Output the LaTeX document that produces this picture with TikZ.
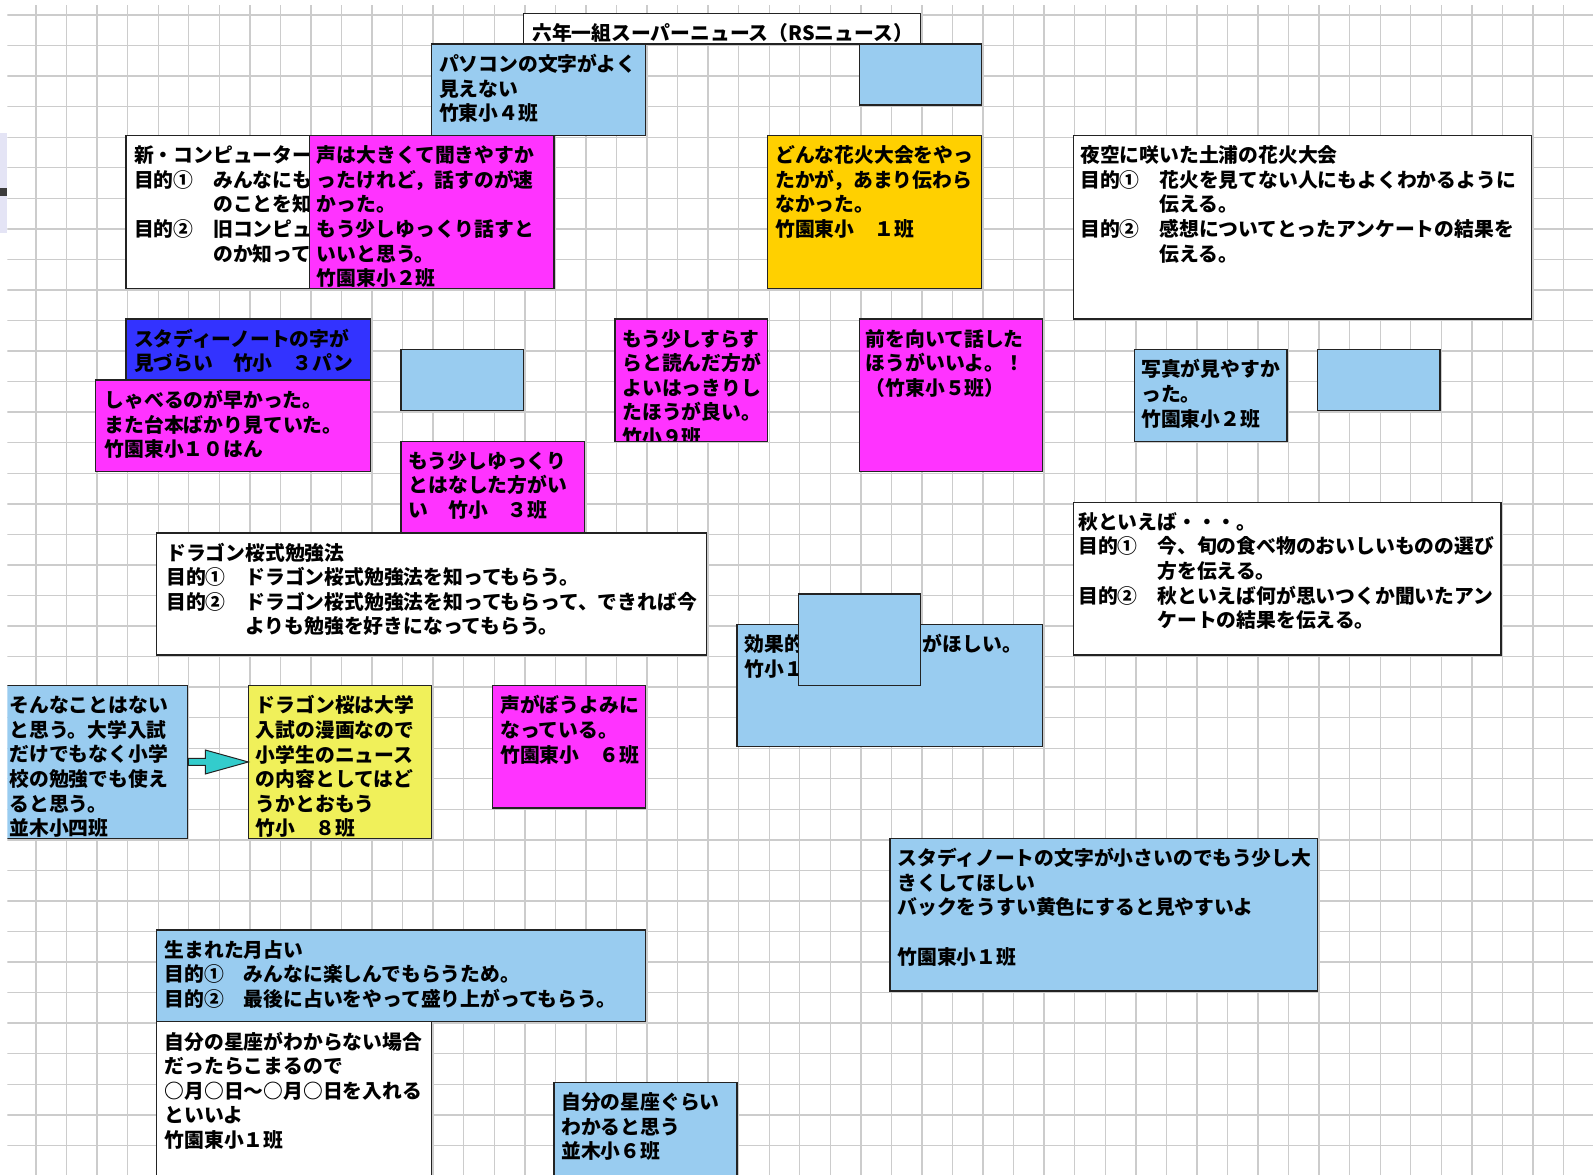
\documentclass[tikz,border=0pt]{standalone}
\usepackage{fontspec}
\newfontfamily\jp{Noto Sans CJK JP}
\usetikzlibrary{calc}
\definecolor{lblue}{RGB}{153,204,240}
\definecolor{mag}{RGB}{255,51,255}
\definecolor{gold}{RGB}{255,208,0}
\definecolor{dblue}{RGB}{51,51,255}
\definecolor{lyellow}{RGB}{240,240,90}
\definecolor{arrowcyan}{RGB}{51,204,204}
\definecolor{bordercol}{RGB}{35,35,35}
\definecolor{gridcol}{RGB}{204,204,204}
\definecolor{lav}{RGB}{228,228,245}
\definecolor{markcol}{RGB}{60,60,60}
\tikzset{
  box/.style={rectangle, draw=bordercol, line width=1.4pt, inner sep=0pt, outer sep=0pt, anchor=north west},
  txt/.style={anchor=north west, inner sep=0pt, outer sep=0pt, align=left, text=black,
    font=\jp\bfseries\fontsize{19.8pt}{24.6pt}\selectfont},
  gridline/.style={draw=gridcol, line width=1.4pt},
  arrowshape/.style={fill=arrowcyan, draw=bordercol, line width=1pt, line join=miter},
}
% box: name, k1, j1, k2, j2, fill
\newcommand{\bx}[6]{\node[box, fill=#6,
  minimum width={30.55*((#4)-(#2))*1pt}, minimum height={30.55*((#5)-(#3))*1pt}]
  (#1) at ({34.5+30.55*(#2)},{13.5+30.55*(#3)}) {};}
% text: box name, dx, text
\newcommand{\tx}[3]{\node[txt] (#1t) at ($(#1.north west)+(#2,10)$) {\rule{0pt}{17pt}#3};}
\begin{document}
\begin{tikzpicture}[x=1pt,y=-1pt]
\useasboundingbox (0,0) rectangle (1593,1175);
\fill[white] (0,0) rectangle (1593,1175);
\fill[lav] (0,133) rectangle (7.3,233);
\fill[markcol] (0,188) rectangle (7.3,196);
\begin{scope}
\clip (7.3,5) rectangle (1593,1175);
\foreach \k in {0,...,51} \draw[gridline] ({36+30.55*\k},5) -- ({36+30.55*\k},1175);
\foreach \j in {0,...,38} \draw[gridline] (7.3,{15+30.55*\j}) -- (1593,{15+30.55*\j});

% title and top row
\bx{title}{16}{0}{29}{1}{white}
\tx{title}{9}{六年一組スーパーニュース（RSニュース）}
\bx{b2}{13}{1}{20}{4}{lblue}
\tx{b2}{7.5}{パソコンの文字がよく\\見えない\\竹東小４班}
\bx{b3}{27}{1}{31}{3}{lblue}

% second row
\bx{b4}{3}{4}{17}{9}{white}
\tx{b4}{8}{新・コンピューター\\目的①　みんなにも\\　　　　のことを知\\目的②　旧コンピュ\\　　　　のか知って}
\bx{b5}{9}{4}{17}{9}{mag}
\tx{b5}{7.5}{声は大きくて聞きやすか\\ったけれど，話すのが速\\かった。\\もう少しゆっくり話すと\\いいと思う。\\竹園東小２班}
\bx{b6}{24}{4}{31}{9}{gold}
\tx{b6}{7.5}{どんな花火大会をやっ\\たかが，あまり伝わら\\なかった。\\竹園東小　１班}
\bx{b7}{34}{4}{49}{10}{white}
\tx{b7}{7}{夜空に咲いた土浦の花火大会\\目的①　花火を見てない人にもよくわかるように\\　　　　伝える。\\目的②　感想についてとったアンケートの結果を\\　　　　伝える。}

% third row
\bx{b8}{3}{10}{11}{12}{dblue}
\tx{b8}{8}{スタディーノートの字が\\見づらい　竹小　３パン}
\bx{b9}{2}{12}{11}{15}{mag}
\tx{b9}{9}{しゃべるのが早かった。\\また台本ばかり見ていた。\\竹園東小１０はん}
\bx{b10}{12}{11}{16}{13}{lblue}
\bx{b11}{19}{10}{24}{14}{mag}
\begin{scope}
\clip ($(b11.north west)+(0.8,0.8)$) rectangle ($(b11.south east)+(-0.8,-0.8)$);
\tx{b11}{7.5}{もう少しすらす\\らと読んだ方が\\よいはっきりし\\たほうが良い。\\竹小９班}
\end{scope}
\bx{b12}{27}{10}{33}{15}{mag}
\tx{b12}{6.5}{前を向いて話した\\ほうがいいよ。！\\（竹東小５班）}
\bx{b13}{36}{11}{41}{14}{lblue}
\tx{b13}{7}{写真が見やすか\\った。\\竹園東小２班}
\bx{b14}{42}{11}{46}{13}{lblue}
\bx{b15}{12}{14}{18}{17}{mag}
\tx{b15}{7.5}{もう少しゆっくり\\とはなした方がい\\い　竹小　３班}

% fourth row
\bx{b16}{4}{17}{22}{21}{white}
\tx{b16}{9.5}{ドラゴン桜式勉強法\\目的①　ドラゴン桜式勉強法を知ってもらう。\\目的②　ドラゴン桜式勉強法を知ってもらって、できれば今\\　　　　よりも勉強を好きになってもらう。}
\bx{b17}{34}{16}{48}{21}{white}
\tx{b17}{5}{秋といえば・・・。\\目的①　今、旬の食べ物のおいしいものの選び\\　　　　方を伝える。\\目的②　秋といえば何が思いつくか聞いたアン\\　　　　ケートの結果を伝える。}
\bx{b18}{23}{20}{33}{24}{lblue}
\tx{b18}{7.5}{効果的\hspace{6em}がほしい。\\竹小１}
\bx{b18c}{25}{19}{29}{22}{lblue}

% fifth row
\bx{b19}{-1}{22}{5}{27}{lblue}
\tx{b19}{5.5}{そんなことはない\\と思う。大学入試\\だけでもなく小学\\校の勉強でも使え\\ると思う。\\並木小四班}
\bx{b21}{7}{22}{13}{27}{lyellow}
\tx{b21}{7.5}{ドラゴン桜は大学\\入試の漫画なので\\小学生のニュース\\の内容としてはど\\うかとおもう\\竹小　８班}
\draw[arrowshape] ($(b19.east)+(1,-3.5)$) -- ($(b19.east)+(18,-3.5)$) -- ($(b19.east)+(18,-12)$)
  -- (b21.west) -- ($(b19.east)+(18,12)$) -- ($(b19.east)+(18,3.5)$) -- ($(b19.east)+(1,3.5)$) -- cycle;
\bx{b22}{15}{22}{20}{26}{mag}
\tx{b22}{7.5}{声がぼうよみに\\なっている。\\竹園東小　６班}
\bx{b23}{28}{27}{42}{32}{lblue}
\tx{b23}{7.5}{スタディノートの文字が小さいのでもう少し大\\きくしてほしい\\バックをうすい黄色にすると見やすいよ\\[24.6pt]竹園東小１班}

% bottom
\bx{b24}{4}{30}{20}{33}{lblue}
\tx{b24}{8}{生まれた月占い\\目的①　みんなに楽しんでもらうため。\\目的②　最後に占いをやって盛り上がってもらう。}
\bx{b25}{4}{33}{13}{39}{white}
\tx{b25}{8}{自分の星座がわからない場合\\だったらこまるので\\○月○日～○月○日を入れる\\といいよ\\竹園東小１班}
\bx{b26}{17}{35}{23}{39}{lblue}
\tx{b26}{7.5}{自分の星座ぐらい\\わかると思う\\並木小６班}
\end{scope}
\end{tikzpicture}
\end{document}
